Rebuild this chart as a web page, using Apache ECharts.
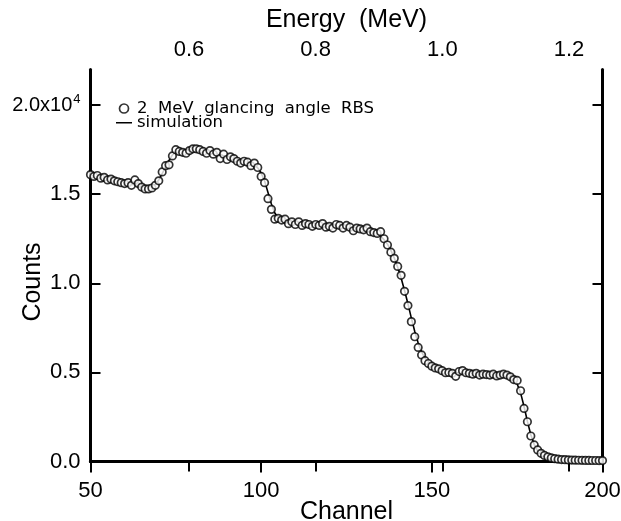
<!DOCTYPE html>
<html>
<head>
<meta charset="utf-8">
<script src="https://cdn.jsdelivr.net/npm/echarts@6/dist/echarts.min.js"></script>
<style>html,body{margin:0;padding:0;background:#fff;}#c{width:621px;height:521px;}</style>
</head>
<body>
<div id="c"></div>
<script>
// ---- data ----
const channelStart = 50;
const rbsCounts = [
16100,16000,16050,15900,15950,15800,15850,15750,15700,15650,
15600,15650,15500,15800,15600,15400,15300,15300,15350,15500,
15750,16250,16600,16650,17150,17500,17400,17350,17300,17450,
17550,17550,17500,17400,17300,17450,17250,17350,17000,17250,
16950,17100,17000,16850,16750,16850,16800,16600,16750,16500,
16000,15650,14750,14150,13600,13650,13550,13600,13350,13450,
13300,13450,13250,13350,13300,13200,13300,13250,13350,13150,
13200,13100,13300,13250,13100,13250,13150,12950,13100,13050,
13000,13100,12900,12850,12800,12900,12500,12150,11750,11400,
10950,10450,9550,8750,7850,7000,6400,5980,5660,5500,
5350,5250,5200,5100,4980,5000,4950,4780,5050,5100,
4980,4950,4900,4950,4850,4900,4880,4850,4900,4800,
4850,4900,4850,4750,4600,4550,3970,2980,2230,1430,
930,650,460,340,260,200,160,130,110,100,
90,80,75,70,65,60,60,55,55,50,
50
];
const simCounts = [
16050,16000,15960,15920,15880,15840,15800,15760,15720,15680,
15640,15600,15560,15520,15470,15420,15380,15370,15420,15560,
15800,16150,16550,16900,17200,17380,17450,17470,17480,17480,
17470,17460,17440,17410,17380,17340,17300,17260,17210,17160,
17110,17060,17000,16950,16900,16850,16800,16740,16650,16480,
16200,15750,15100,14450,13950,13680,13560,13500,13460,13430,
13400,13380,13360,13340,13320,13300,13280,13260,13240,13220,
13200,13180,13160,13140,13120,13100,13080,13050,13020,12990,
12960,12920,12880,12830,12750,12630,12450,12200,11850,11420,
10900,10300,9600,8850,8050,7300,6650,6150,5800,5560,
5400,5290,5200,5130,5080,5040,5010,4990,4970,4960,
4950,4940,4930,4920,4910,4900,4890,4880,4870,4860,
4850,4830,4800,4740,4620,4350,3850,3100,2250,1500,
950,600,390,260,180,130,100,80,70,60,
55,52,50,48,47,46,45,45,44,44,
44
];
const energyTicks = [0.6, 0.8, 1.0, 1.2];
const countTicks = [0, 5000, 10000, 15000, 20000];
const legendNames = ['2  MeV  glancing  angle  RBS', 'simulation'];

// ---- build ----
const rbsData = rbsCounts.map((v, i) => [channelStart + i, v]);
const simData = simCounts.map((v, i) => [channelStart + i, v]);
const FONT = "'Liberation Sans', Arial, sans-serif";
const LFONT = "'DejaVu Sans', sans-serif";
const chart = echarts.init(document.getElementById('c'), null, {renderer: 'canvas'});
const axisLine = {show: true, lineStyle: {color: '#000', width: 3}};
const lineIcon = 'path://M0,0 L16,0 L16,0.001 Z M0,4 L16,4 L16,5.6 L0,5.6 Z M0,9 L16,9 L16,9.001 Z';
chart.setOption({
  animation: false,
  backgroundColor: '#fff',
  textStyle: {fontFamily: FONT},
  grid: {left: 90.5, right: 18.5, top: 69.5, bottom: 59.5, containLabel: false, outerBoundsMode: 'none'},
  legend: {
    left: 116, top: 100, padding: 0, orient: 'vertical', itemWidth: 16, itemHeight: 9, itemGap: -3,
    textStyle: {fontFamily: LFONT, fontSize: 16.5, color: '#000'},
    data: [
      {name: legendNames[0], icon: 'circle', itemStyle: {color: '#fff', borderColor: '#000', borderWidth: 1.7}},
      {name: legendNames[1], icon: lineIcon, itemStyle: {color: '#000', borderWidth: 0}}
    ]
  },
  xAxis: [
    {
      type: 'value', position: 'bottom', min: 50, max: 200, interval: 50,
      axisLine: axisLine,
      axisTick: {show: true, inside: false, length: 11, lineStyle: {color: '#000', width: 2}},
      axisLabel: {color: '#000', fontSize: 22, fontFamily: FONT, margin: 18},
      splitLine: {show: false},
      name: 'Channel', nameLocation: 'middle', nameGap: 38, nameMoveOverlap: false,
      nameTextStyle: {color: '#000', fontSize: 25, fontFamily: FONT}
    },
    {
      type: 'value', position: 'top', min: 0.4445, max: 1.2529,
      axisLine: axisLine,
      axisTick: {show: true, inside: true, length: 10, lineStyle: {color: '#000', width: 2}, customValues: energyTicks},
      axisLabel: {color: '#000', fontSize: 22, fontFamily: FONT, margin: 9, customValues: energyTicks,
        formatter: v => v.toFixed(1)},
      splitLine: {show: false},
      name: 'Energy  (MeV)', nameLocation: 'middle', nameGap: 37, nameMoveOverlap: false,
      nameTextStyle: {color: '#000', fontSize: 25, fontFamily: FONT}
    }
  ],
  yAxis: [
    {
      type: 'value', position: 'left', min: 0, max: 22000,
      axisLine: axisLine,
      axisTick: {show: true, inside: true, length: 10, lineStyle: {color: '#000', width: 2}, customValues: countTicks},
      axisLabel: {color: '#000', fontSize: 22, fontFamily: FONT, margin: 10, customValues: countTicks,
        formatter: v => v === 20000 ? '{b|2.0x10}{s|4}' : (v / 10000).toFixed(1),
        rich: {b: {fontSize: 20, fontFamily: FONT, color: '#000'}, s: {fontSize: 13, fontFamily: FONT, color: '#000', verticalAlign: 'top', padding: [0, 0, 11, 1]}}
      },
      splitLine: {show: false},
      name: 'Counts', nameLocation: 'middle', nameGap: 45, nameMoveOverlap: false,
      nameTextStyle: {color: '#000', fontSize: 25, fontFamily: FONT, padding: [0, 33, 0, 0]}
    },
    {
      type: 'value', position: 'right', min: 0, max: 22000,
      axisLine: axisLine,
      axisTick: {show: true, inside: true, length: 10, lineStyle: {color: '#000', width: 2}, customValues: countTicks},
      axisLabel: {show: false},
      splitLine: {show: false}
    }
  ],
  series: [
    {
      name: legendNames[1], type: 'line', xAxisIndex: 0, yAxisIndex: 0, data: simData,
      showSymbol: false, symbol: 'none', lineStyle: {color: '#000', width: 1.6}, itemStyle: {color: '#000'}, z: 2
    },
    {
      name: legendNames[0], type: 'scatter', xAxisIndex: 0, yAxisIndex: 0, data: rbsData,
      symbol: 'circle', symbolSize: 7.5,
      itemStyle: {color: '#fff', borderColor: '#000', borderWidth: 1.7}, z: 3
    }
  ]
});
</script>
</body>
</html>
